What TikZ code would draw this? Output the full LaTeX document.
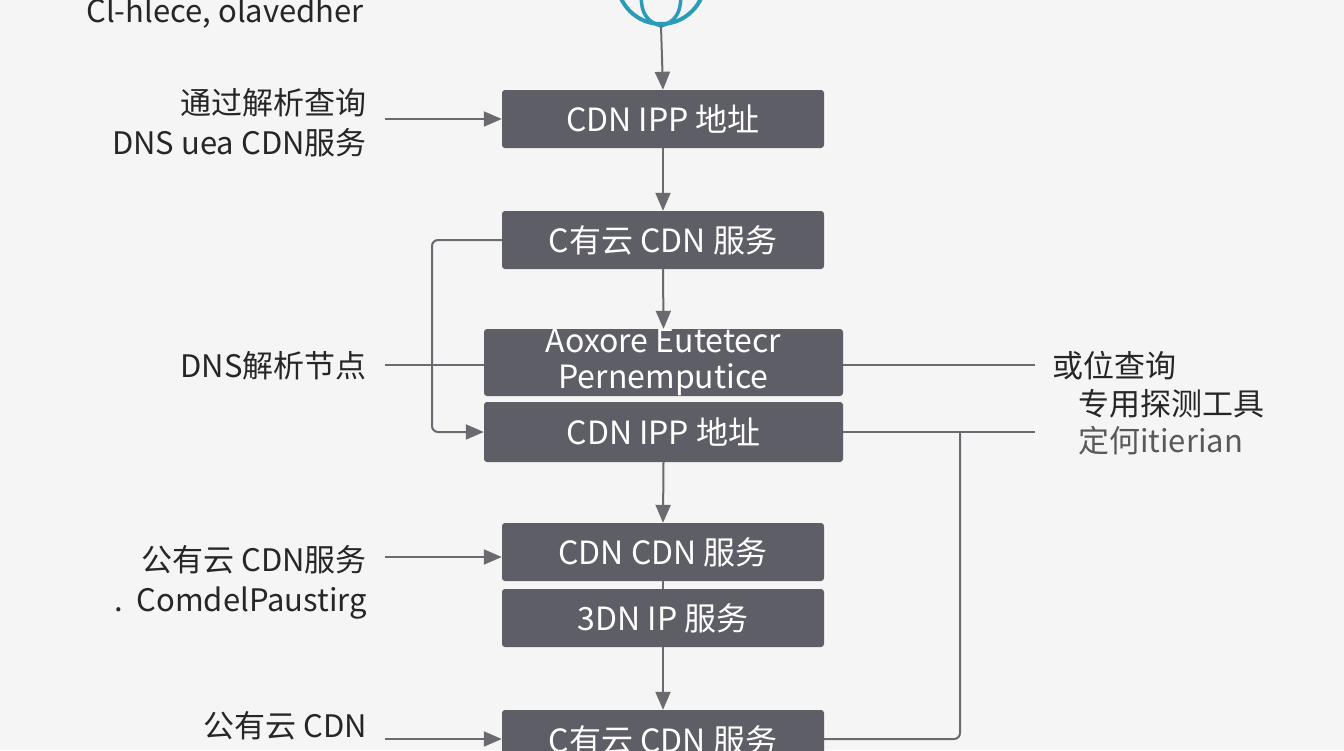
\documentclass[tikz,border=0pt]{standalone}
\usepackage{fontspec}
\setmainfont{Noto Sans CJK SC}
\usetikzlibrary{arrows.meta}
\definecolor{bx}{HTML}{5E5E66}
\definecolor{ln}{HTML}{6A6A70}
\definecolor{bg}{HTML}{F5F5F5}
\definecolor{teal}{HTML}{2A9BB8}
\begin{document}
\begin{tikzpicture}[x=1pt,y=-1pt,
  box/.style={draw=none,fill=bx,rounded corners=3pt,text=white,font=\fontsize{32}{36}\selectfont,align=center,inner sep=0pt},
  lab/.style={font=\fontsize{31}{40}\selectfont,text=black!85,align=right,inner sep=0pt},
  con/.style={draw=ln,line width=2pt},
  arr/.style={con,-{Triangle[length=18pt,width=15pt]}}]
\fill[bg] (0,0) rectangle (1344,750);
\useasboundingbox (0,0) rectangle (1344,750);
\node[box,minimum width=322pt,minimum height=58pt] (b1) at (663,119) {CDN IPP 地址};
\node[box,minimum width=322pt,minimum height=58pt] (b2) at (663,240) {C有云 CDN 服务};
\node[box,minimum width=359pt,minimum height=67pt] (b3) at (663.5,362.5) {Aoxore Eutetecr\\Pernemputice};
\node[box,minimum width=359pt,minimum height=60pt] (b4) at (663.5,432) {CDN IPP 地址};
\node[box,minimum width=322pt,minimum height=58pt] (b5) at (663,552) {CDN CDN 服务};
\node[box,minimum width=322pt,minimum height=58pt] (b6) at (663,618) {3DN IP 服务};
\node[box,minimum width=322pt,minimum height=60pt] (b7) at (663,740) {C有云 CDN 服务};
% globe
\begin{scope}
\clip (0,0) rectangle (1344,750);
\node[circle,draw=teal,line width=4pt,minimum size=88pt,inner sep=0pt] (g) at (661,-20) {};
\draw[teal,line width=3.5pt] (g.north) .. controls (630,0) and (640,20) .. (g.south);
\draw[teal,line width=3.5pt] (g.north) .. controls (692,0) and (682,20) .. (g.south);
\end{scope}
\draw[arr] (g.south) -- (b1.north);
\draw[arr] (b1.south) -- (b2.north);
\draw[arr] (b2.south) -- (b3.north);
\draw[arr] (b4.south) -- (b5.north);
\draw[con] (b5.south) -- (b6.north);
\draw[arr] (b6.south) -- (b7.north);
\draw[arr,rounded corners=6pt] (b2.west) -| (432,432) -- (b4.west);
% left labels
\node[lab,anchor=east] (t0) at (364,13) {Cl-hlece, olavedher};
\node[lab,anchor=east] (t1) at (367,123) {通过解析查询\\DNS uea CDN服务};
\coordinate (c1) at (385,119);
\draw[arr] (c1) -- (c1 -| b1.west);
\node[lab,anchor=east] (t2) at (367,366) {DNS解析节点};
\coordinate (c2) at (385,365);
\draw[con] (c2) -- (c2 -| b3.west);
\node[lab,anchor=east] (t3) at (367,582) {公有云 CDN服务\\.\ \ ComdelPaustirg};
\coordinate (c3) at (385,557);
\draw[arr] (c3) -- (c3 -| b5.west);
\node[lab,anchor=east] (t4) at (367,744) {公有云 CDN\\\phantom{x}};
\coordinate (c4) at (385,739);
\draw[arr] (c4) -- (c4 -| b7.west);
% right
\coordinate (r1) at (1035,365);
\draw[con] (r1 -| b3.east) -- (r1);
\node[lab,anchor=west] (t5) at (1052,366) {或位查询};
\node[lab,anchor=west] (t6) at (1078,404) {专用探测工具};
\node[lab,anchor=west,text=black!65] (t7) at (1078,441) {定何itierian};
\coordinate (r2) at (1035,432);
\draw[con] (b4.east) -- (r2);
\coordinate (r3) at (960,739);
\draw[con,rounded corners=6pt] (960,432) -- (r3) -- (r3 -| b7.east);
\end{tikzpicture}
\end{document}
